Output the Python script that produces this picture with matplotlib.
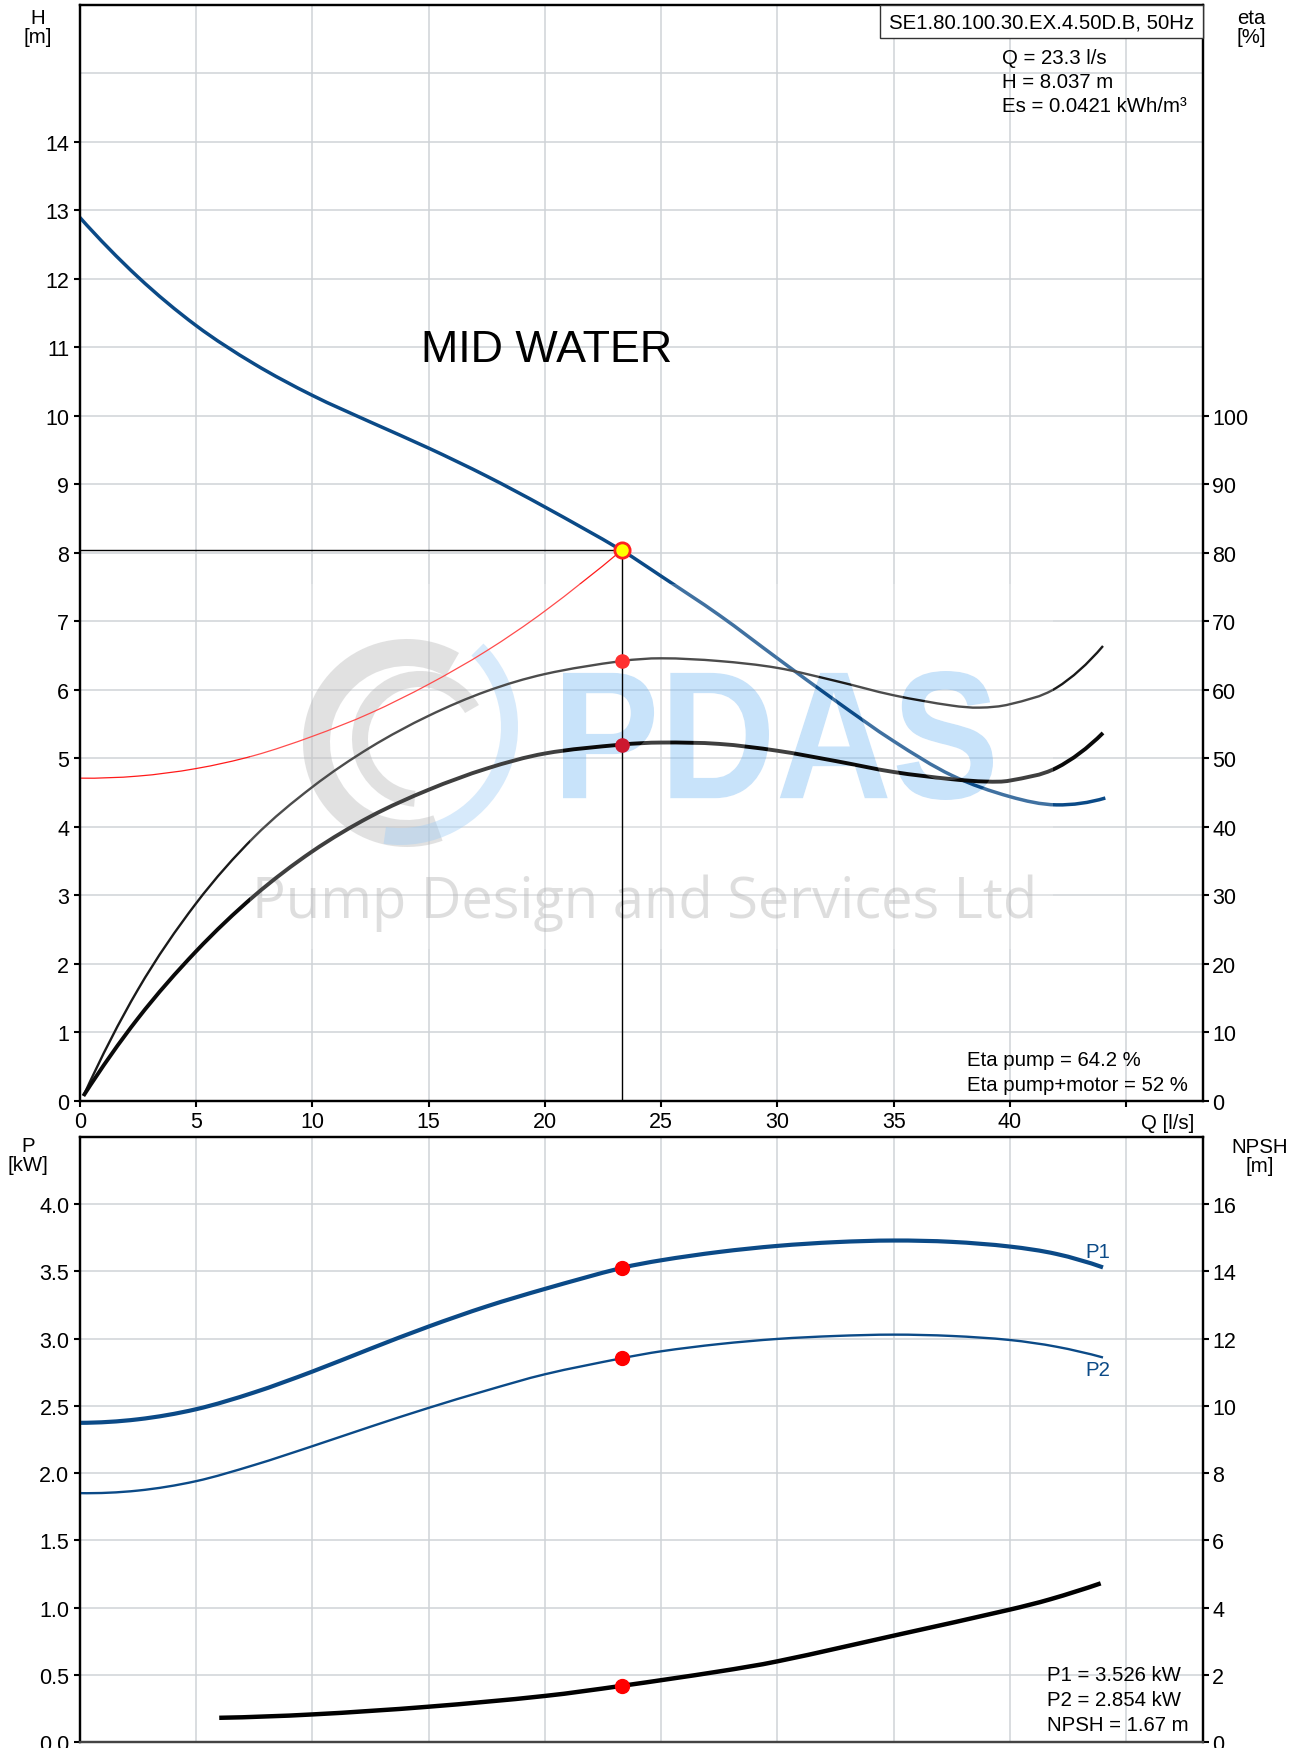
import matplotlib
matplotlib.use('Agg')
import matplotlib.pyplot as plt
from matplotlib.patches import Rectangle, Wedge, PathPatch
from matplotlib.path import Path
from matplotlib.textpath import TextPath
from matplotlib.font_manager import FontProperties
from matplotlib.transforms import Affine2D

# ---------------- data ----------------
Q_H = [0, 2.5, 5, 7.5, 10, 12.5, 15, 17.5, 20, 23.3, 25, 27.5, 30, 32.5, 35, 37.5, 40, 42, 44.1]
H_curve = [12.90, 12.03, 11.32, 10.76, 10.30, 9.91, 9.53, 9.12, 8.67, 8.037, 7.66, 7.09, 6.46, 5.84,
           5.25, 4.75, 4.44, 4.32, 4.42]

Q_sys = [0, 2.5, 5, 7.5, 10, 12.5, 15, 17.5, 20, 23.3]
H_sys = [4.71, 4.74, 4.85, 5.04, 5.32, 5.66, 6.08, 6.57, 7.15, 8.037]

Q_eta_p = [0.16, 2.5, 5, 7.5, 10, 12.5, 15, 17.5, 20, 23.3, 25, 27.5, 30, 32.5, 35, 37.5, 38.7, 40,
           42, 44]
eta_pump = [0.7, 16.2, 28.8, 38.5, 45.8, 51.6, 56.2, 59.8, 62.3, 64.2, 64.6, 64.2, 63.2, 61.3, 59.2,
            57.7, 57.4, 57.9, 60.3, 66.4]

Q_eta_m = [0.16, 2.5, 5, 7.5, 10, 12.5, 15, 17.5, 20, 23.3, 25, 27.5, 30, 32.5, 35, 37.5, 39, 40,
           42, 44]
eta_motor = [0.7, 12.0, 21.8, 29.9, 36.4, 41.5, 45.4, 48.5, 50.7, 52.0, 52.3, 52.1, 51.1, 49.6, 48.0,
             46.95, 46.6, 46.75, 48.6, 53.7]

Q_P = [0, 2.5, 5, 7.5, 10, 12.5, 15, 17.5, 20, 23.3, 25, 27.5, 30, 32.5, 35, 37.5, 40, 42, 44]
P1 = [2.374, 2.40, 2.475, 2.60, 2.755, 2.925, 3.09, 3.24, 3.37, 3.526, 3.583, 3.645, 3.69, 3.718,
      3.73, 3.72, 3.685, 3.63, 3.53]
P2 = [1.851, 1.87, 1.94, 2.06, 2.20, 2.345, 2.485, 2.615, 2.735, 2.854, 2.906, 2.96, 2.998, 3.02,
      3.03, 3.02, 2.99, 2.94, 2.86]

Q_N = [6.0, 10, 15, 20, 23.3, 27.5, 30, 35.3, 40, 41.75, 43.9]
NPSH = [0.72, 0.82, 1.05, 1.37, 1.67, 2.10, 2.40, 3.21, 3.94, 4.25, 4.72]

Q_duty = 23.3
H_duty = 8.037
eta_p_duty = 64.2
eta_m_duty = 52.0
P1_duty = 3.526
P2_duty = 2.854
NPSH_duty = 1.67

x_ticks = [0, 5, 10, 15, 20, 25, 30, 35, 40, 45]
x_labels = ['0', '5', '10', '15', '20', '25', '30', '35', '40', '']
H_ticks = list(range(0, 15))
eta_ticks = list(range(0, 101, 10))
P_ticks = [0.0, 0.5, 1.0, 1.5, 2.0, 2.5, 3.0, 3.5, 4.0]
NPSH_ticks = list(range(0, 17, 2))

title_box = 'SE1.80.100.30.EX.4.50D.B, 50Hz'
info_top = ['Q = 23.3 l/s', 'H = 8.037 m', 'Es = 0.0421 kWh/m³']
info_eta = ['Eta pump = 64.2 %', 'Eta pump+motor = 52 %']
info_bot = ['P1 = 3.526 kW', 'P2 = 2.854 kW', 'NPSH = 1.67 m']

# ---------------- figure ----------------
W, HP = 1303, 1749
plt.rcParams['font.family'] = ['Liberation Sans', 'DejaVu Sans']
fig = plt.figure(figsize=(W / 100, HP / 100), dpi=100)
pix = Affine2D().scale(1 / W, -1 / HP).translate(0, 1) + fig.transFigure


def fx(x):
    return x / W


def fy(y):
    return 1 - y / HP


def smooth_line(ax, xs, ys, **kw):
    """Draw a smooth curve through the read points (cubic Hermite drawn as Bezier)."""
    n = len(xs)
    d = [(ys[i + 1] - ys[i]) / (xs[i + 1] - xs[i]) for i in range(n - 1)]
    m = [0.0] * n
    for i in range(1, n - 1):
        m[i] = (ys[i + 1] - ys[i - 1]) / (xs[i + 1] - xs[i - 1])
    m[0] = 2 * d[0] - m[1]
    m[-1] = 2 * d[-1] - m[-2]
    verts = [(xs[0], ys[0])]
    codes = [Path.MOVETO]
    for i in range(n - 1):
        h = xs[i + 1] - xs[i]
        verts += [(xs[i] + h / 3, ys[i] + m[i] * h / 3),
                  (xs[i + 1] - h / 3, ys[i + 1] - m[i + 1] * h / 3),
                  (xs[i + 1], ys[i + 1])]
        codes += [Path.CURVE4] * 3
    patch = PathPatch(Path(verts, codes), fill=False, transform=ax.transData,
                      capstyle='butt', joinstyle='round', **kw)
    ax.add_patch(patch)
    return patch


FS = 15.5
FA = 14.7
GRID = '#cfd3d7'
BLUE = '#0b4a87'

L, R = 79.7, 1203
ax1 = fig.add_axes([fx(L), fy(1101.7), fx(R) - fx(L), fy(6) - fy(1101.7)])
ax2 = fig.add_axes([fx(L), fy(1743), fx(R) - fx(L), fy(1138) - fy(1743)])

for ax in (ax1, ax2):
    ax.set_xlim(0, 48.3)
    ax.set_xticks(x_ticks)
    ax.set_axisbelow(True)
    ax.grid(True, which='both', color=GRID, lw=1.1)
    for s in ax.spines.values():
        s.set_color('black')
        s.set_linewidth(1.6)
    ax.tick_params(axis='both', which='major', direction='out', length=4.5, width=1.5,
                   labelsize=FS, colors='black', pad=3)
    ax.tick_params(axis='both', which='minor', length=0)

# top axes
ax1.set_ylim(0, 16)
ax1.set_yticks(H_ticks)
ax1.set_yticks([15], minor=True)
ax1.set_xticklabels(x_labels)
ax1.tick_params(axis='x', pad=3)
ax1r = ax1.twinx()
ax1r.set_ylim(0, 160)
ax1r.set_yticks(eta_ticks)
ax1r.tick_params(axis='y', direction='out', length=4.5, width=1.5, labelsize=FS, pad=2)
for s in ax1r.spines.values():
    s.set_color('black')
    s.set_linewidth(1.6)

# bottom axes
ax2.set_ylim(0, 4.5)
ax2.set_yticks(P_ticks)
ax2.set_yticklabels([f'{v:.1f}' for v in P_ticks])
ax2.tick_params(axis='x', length=0, labelbottom=False)
ax2.spines['bottom'].set_color('#444444')
ax2r = ax2.twinx()
ax2r.set_ylim(0, 18)
ax2r.set_yticks(NPSH_ticks)
ax2r.tick_params(axis='y', direction='out', length=4.5, width=1.5, labelsize=FS, pad=2)
for s in ax2r.spines.values():
    s.set_color('black')
    s.set_linewidth(1.6)
ax2r.spines['bottom'].set_color('#444444')

# ---------------- watermark ----------------
wz = 1.5
ax1.add_patch(Wedge((407, 744), 104, 70, 300, width=27, transform=pix, color='#989898',
                    alpha=0.36, zorder=wz, lw=0))
ax1.add_patch(Wedge((420, 740), 68, 95, 330, width=16, transform=pix, color='#989898',
                    alpha=0.36, zorder=wz, lw=0))
ax1.add_patch(Wedge((400, 728), 118, -45, 98, width=17, transform=pix, color='#87c1f4',
                    alpha=0.42, zorder=wz, lw=0))
tp = TextPath((0, 0), 'PDAS', size=100, prop=FontProperties(family='Liberation Sans', weight='bold'))
bb = tp.get_extents()
to_px = Affine2D().translate(-bb.x0, -bb.y0).scale(430 / bb.width, -129 / bb.height).translate(563, 801)
tp_px = to_px.transform_path(tp)
ax1.add_patch(PathPatch(tp_px, transform=pix, color='#87c1f4', alpha=0.45, lw=0, zorder=wz))
ax1.text(645, 918, 'Pump Design and Services Ltd', transform=pix, ha='center', va='baseline',
         fontsize=40.3, color='#989898', alpha=0.4, zorder=wz,
         family=['Open Sans', 'DejaVu Sans'])

# whitish veil of the watermark image (letters left as holes)
polys = tp_px.to_polygons()


def _area(p):
    a = 0.0
    for i in range(len(p) - 1):
        a += p[i][0] * p[i + 1][1] - p[i + 1][0] * p[i][1]
    return 0.5 * a


outer_sign = 1 if _area(max(polys, key=lambda p: abs(_area(p)))) > 0 else -1
vx0, vx1, vy0, vy1 = 250, 1053, 585, 950
rv = [(vx0, vy0), (vx1, vy0), (vx1, vy1), (vx0, vy1), (vx0, vy0)]
if outer_sign > 0:
    rv = rv[::-1]
veil = Path.make_compound_path(
    Path(rv, [Path.MOVETO, Path.LINETO, Path.LINETO, Path.LINETO, Path.CLOSEPOLY]), tp_px)
ax1r.add_patch(PathPatch(veil, transform=pix, fc='white', alpha=0.22, lw=0, zorder=4))

# ---------------- curves ----------------
smooth_line(ax1, Q_H, H_curve, edgecolor=BLUE, lw=2.5, zorder=3)
smooth_line(ax1, Q_sys, H_sys, edgecolor='#ff1a1a', lw=0.9, zorder=3)
ax1r.plot([0, Q_duty], [H_duty * 10, H_duty * 10], color='black', lw=1.0, zorder=4.5)
ax1r.plot([Q_duty, Q_duty], [0, H_duty * 10], color='black', lw=1.0, zorder=4.5)
smooth_line(ax1r, Q_eta_p, eta_pump, edgecolor='#1a1a1a', lw=1.7, zorder=3)
smooth_line(ax1r, Q_eta_m, eta_motor, edgecolor='#0a0a0a', lw=2.8, zorder=3)
ax1r.plot([Q_duty], [eta_p_duty], 'o', ms=9.5, mfc='#ff3030', mec='#ff3030', zorder=5)
ax1r.plot([Q_duty], [eta_m_duty], 'o', ms=9.5, mfc='#cc1830', mec='#cc1830', zorder=5)
ax1r.plot([Q_duty], [H_duty * 10], 'o', ms=11, mfc='#ffff00', mec='#ff2020', mew=2, zorder=6)

smooth_line(ax2, Q_P, P1, edgecolor=BLUE, lw=3.0, zorder=3)
smooth_line(ax2, Q_P, P2, edgecolor=BLUE, lw=1.7, zorder=3)
ax2.plot([Q_duty], [P1_duty], 'o', ms=10, mfc='#ff0000', mec='#ff0000', zorder=5)
ax2.plot([Q_duty], [P2_duty], 'o', ms=10, mfc='#ff0000', mec='#ff0000', zorder=5)
smooth_line(ax2r, Q_N, NPSH, edgecolor='black', lw=3.2, zorder=3)
ax2r.plot([Q_duty], [NPSH_duty], 'o', ms=10, mfc='#ff0000', mec='#ff0000', zorder=5)

# ---------------- texts ----------------
ax1r.text(547, 362, 'MID WATER', transform=pix, ha='center', va='baseline', fontsize=32.3, zorder=7)

fig.text(fx(38), fy(9), 'H\n[m]', ha='center', va='top', fontsize=FA, linespacing=1.0)
fig.text(fx(1251), fy(9), 'eta\n[%]', ha='center', va='top', fontsize=FA, linespacing=1.0)
fig.text(fx(28), fy(1137), 'P\n[kW]', ha='center', va='top', fontsize=FA, linespacing=1.0)
fig.text(fx(1260), fy(1138), 'NPSH\n[m]', ha='center', va='top', fontsize=FA, linespacing=1.0)
fig.text(fx(1194), fy(1129), 'Q [l/s]', ha='right', va='baseline', fontsize=FA)

# model box
fig.add_artist(Rectangle((880, 6), R - 880, 33, transform=pix, fill=True, fc='white',
                         ec='#333333', lw=1.0, zorder=8))
fig.text(fx((880 + R) / 2), fy(28.5), title_box, ha='center', va='baseline', fontsize=FA, zorder=9)

for i, s in enumerate(info_top):
    fig.text(fx(1002), fy(64.5 + 24 * i), s, ha='left', va='baseline', fontsize=FA)
for i, s in enumerate(info_eta):
    fig.text(fx(967), fy(1066.5 + 24.5 * i), s, ha='left', va='baseline', fontsize=FA)
for i, s in enumerate(info_bot):
    fig.text(fx(1047), fy(1681.5 + 25 * i), s, ha='left', va='baseline', fontsize=FA)

ax2.text(1098, 1258, 'P1', transform=pix, ha='center', va='baseline', fontsize=FA, color=BLUE)
ax2.text(1098, 1376, 'P2', transform=pix, ha='center', va='baseline', fontsize=FA, color=BLUE)

fig.savefig('out.png', dpi=100)
